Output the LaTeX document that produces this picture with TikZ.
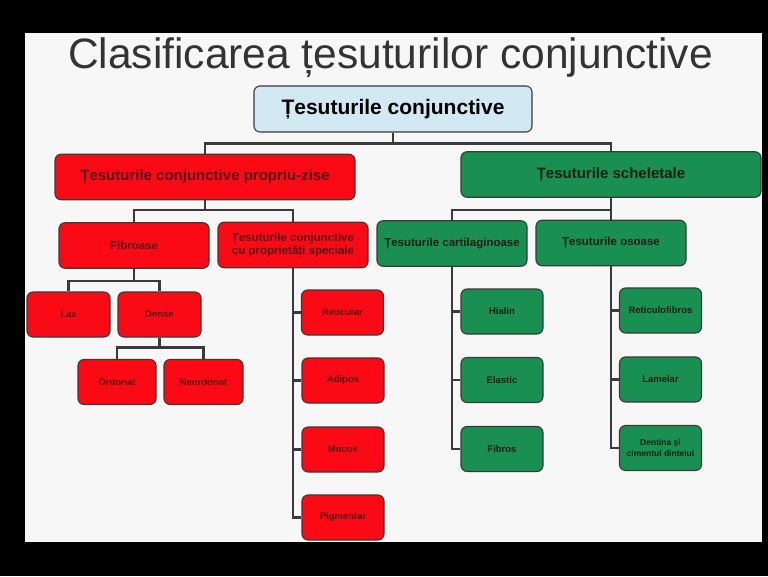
\documentclass[tikz,border=0pt]{standalone}
\usepackage{fontspec}
\setmainfont{Liberation Sans}
\definecolor{boxred}{HTML}{FA0A14}
\definecolor{redtext}{HTML}{5A0A18}
\definecolor{boxgreen}{HTML}{1A8F52}
\definecolor{greentext}{HTML}{0D2014}
\definecolor{boxblue}{HTML}{D2E8F2}
\definecolor{boxline}{HTML}{3A3A3A}
\definecolor{titlecol}{HTML}{333333}
\definecolor{paper}{HTML}{F7F7F7}

\begin{document}
\begin{tikzpicture}[x=1pt, y=-1pt,
  box/.style={draw=boxline, line width=1.1pt, rounded corners=6pt, align=center, inner sep=0pt},
  redbox/.style={box, fill=boxred, text=redtext},
  greenbox/.style={box, fill=boxgreen, text=greentext},
  small/.style={minimum width=82pt, minimum height=45pt, font=\bfseries\fontsize{9.5}{11}\selectfont},
  mid/.style={minimum width=150pt, minimum height=45.5pt, font=\bfseries\fontsize{11.5}{13.3}\selectfont},
  wide/.style={minimum width=300pt, minimum height=45.5pt, font=\bfseries\fontsize{15}{17}\selectfont},
  link/.style={draw=boxline, line width=2.2pt}]
\useasboundingbox (0,0) rectangle (768,576);
\fill[black] (0,0) rectangle (768,576);
\fill[paper] (25,33) rectangle (762,542);

\node[anchor=base, text=titlecol, font=\fontsize{42.5}{48}\selectfont] (title) at (390.5,68) {Clasificarea țesuturilor conjunctive};
\node[box, fill=boxblue, text=black, minimum width=278pt, minimum height=46pt, font=\bfseries\fontsize{21}{24}\selectfont] (top) at (393,109) {Țesuturile conjunctive};

\node[redbox, wide] (prop) at (205,177) {Țesuturile conjunctive propriu-zise};
\node[redbox, mid] (fibr) at (134,245.5) {Fibroase};
\node[redbox, mid] (spec) at (293,245) {Țesuturile conjunctive\\cu proprietăți speciale};
\node[redbox, small, minimum width=83pt] (lax) at (68.5,314.5) {Lax};
\node[redbox, small, minimum width=83pt] (dense) at (159.5,314.5) {Dense};
\node[redbox, small, minimum width=78pt] (ordo) at (117,382) {Ordonat};
\node[redbox, small, minimum width=79pt] (neor) at (203.5,382) {Neordonat};
\node[redbox, small] (retic) at (342.5,312.5) {Reticular};
\node[redbox, small] (adip) at (343,380.5) {Adipos};
\node[redbox, small] (mucos) at (343,449.5) {Mucos};
\node[redbox, small] (pigm) at (343,517.5) {Pigmentar};

\node[greenbox, wide] (schel) at (611,174.5) {Țesuturile scheletale};
\node[greenbox, mid] (cart) at (452,243.5) {Țesuturile cartilaginoase};
\node[greenbox, mid] (osoa) at (611,243) {Țesuturile osoase};
\node[greenbox, small] (hialin) at (502,311.5) {Hialin};
\node[greenbox, small] (elast) at (502,380) {Elastic};
\node[greenbox, small] (fibros) at (502,449) {Fibros};
\node[greenbox, small] (reticf) at (660.5,310.5) {Reticulofibros};
\node[greenbox, small] (lamel) at (660.5,379.5) {Lamelar};
\node[greenbox, small, font=\bfseries\fontsize{8.5}{11.5}\selectfont] (dent) at (660.5,448) {Dentina şi\\cimentul dintelui};

\draw[link] (top.south) -- ++(0,11) -| (prop.north);
\draw[link] (top.south) -- ++(0,11) -| (schel.north);
\draw[link] (prop.south) -- ++(0,10) -| (fibr.north);
\draw[link] (prop.south) -- ++(0,10) -| (spec.north);
\draw[link] (fibr.south) -- ++(0,12) -| (lax.north);
\draw[link] (fibr.south) -- ++(0,12) -| (dense.north);
\draw[link] (dense.south) -- ++(0,10) -| (ordo.north);
\draw[link] (dense.south) -- ++(0,10) -| (neor.north);
\draw[link] (spec.south) |- (retic.west) (spec.south) |- (adip.west)
  (spec.south) |- (mucos.west) (spec.south) |- (pigm.west);
\draw[link] (schel.south) -- ++(0,12) -| (cart.north);
\draw[link] (schel.south) -- ++(0,12) -| (osoa.north);
\draw[link] (cart.south) |- (hialin.west) (cart.south) |- (elast.west)
  (cart.south) |- (fibros.west);
\draw[link] (osoa.south) |- (reticf.west) (osoa.south) |- (lamel.west)
  (osoa.south) |- (dent.west);
\end{tikzpicture}
\end{document}
